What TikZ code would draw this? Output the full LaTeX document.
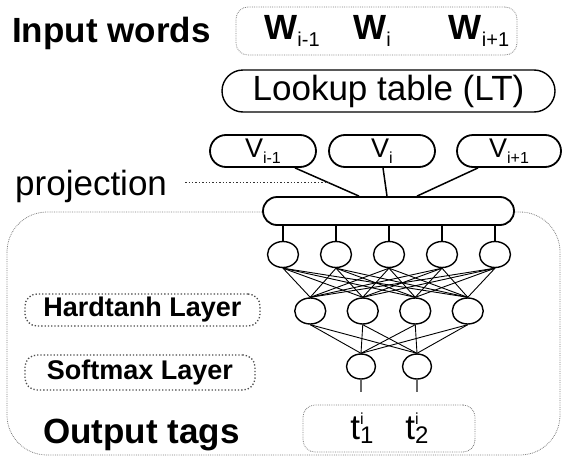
\documentclass[tikz,border=0pt]{standalone}
\usepackage{fontspec}
\setmainfont{Liberation Sans}
\usetikzlibrary{positioning,shapes.misc,shapes.geometric}
\newcommand{\lowsub}[2]{\raisebox{-0.22em}{\fontsize{#1}{#1}\mdseries\selectfont #2}}
\newcommand{\tagsym}[1]{t\rlap{\raisebox{0.45em}{\fontsize{16}{16}\selectfont i}}\raisebox{-0.1em}{\fontsize{24}{24}\selectfont #1}}

\begin{document}
\begin{tikzpicture}[x=1pt, y=-1pt,
  big/.style={font=\fontsize{35}{40}\selectfont, inner sep=0pt},
  bigb/.style={font=\bfseries\fontsize{35}{40}\selectfont, inner sep=0pt},
  pill/.style={draw, rounded rectangle, line width=1.8pt, inner sep=0pt},
  vbox/.style={pill, minimum width=106, minimum height=32, font=\fontsize{27}{30}\selectfont},
  dotbox/.style={draw=gray, densely dotted, rounded corners=12pt, line width=0.8pt},
  layerbox/.style={draw=black!70, dotted, rounded corners=12pt, line width=1.3pt, font=\bfseries\fontsize{27}{30}\selectfont},
  neuron/.style={ellipse, draw, line width=1.4pt, minimum width=31pt, minimum height=26pt, inner sep=0pt},
  wire/.style={line width=1.5pt}]
\useasboundingbox (0,0) rectangle (562,458);
% input words
\node[bigb, anchor=west] (inlbl) at (12,33) {Input words};
\node[dotbox, minimum width=281, minimum height=48] (wbox) at (376.5,31) {};
\node[bigb] (wm) at (292,31) {W\lowsub{20}{i-1}};
\node[bigb] (w) at (372,31) {W\lowsub{20}{i}};
\node[bigb] (wp) at (479,31) {W\lowsub{20}{i+1}};
\node[pill, line width=1.4pt, minimum width=333, minimum height=42, font=\fontsize{35}{40}\selectfont] (lt) at (388.5,91) {Lookup table (LT)};
% projection
\node[vbox] (vm) at (263,151) {V\lowsub{16}{i-1}};
\node[vbox] (v) at (382,151) {V\lowsub{16}{i}};
\node[vbox, minimum width=104] (vp) at (509,151) {V\lowsub{16}{i+1}};
\draw[dotbox, rounded corners=40pt] (7,212) rectangle (560,455);
\node[pill, fill=white, minimum width=251, minimum height=28] (proj) at (388.5,211) {};
\node[big, anchor=west] (projlbl) at (15,186) {projection};
\draw[wire] ([xshift=32pt]vm.south) -- coordinate[pos=0.52] (pj) ([xshift=-29.5pt]proj.north);
\draw[wire] ([xshift=1pt]v.south) -- ([xshift=-1.5pt]proj.north);
\draw[wire] ([xshift=-31pt]vp.south) -- ([xshift=28.5pt]proj.north);
\draw[dotted, line width=1.4pt, black!80] ([xshift=18pt]pj -| projlbl.east) -- (pj);
% network
\foreach \i in {1,...,5} \node[neuron] (a\i) at (230+53*\i,254.5) {};
\foreach \i in {1,...,4} \node[neuron] (b\i) at (257.75+52.5*\i,311) {};
\foreach \i/\x in {1/361, 2/417} \node[neuron, minimum width=29pt, minimum height=25pt] (s\i) at (\x,366.5) {};
\foreach \i in {1,...,5} \draw[wire] (a\i.north) -- (a\i.north |- proj.south);
\foreach \i in {1,...,5} \foreach \j in {1,...,4} \draw[line width=0.9pt] (a\i.south) -- (b\j.north);
\foreach \i in {1,...,4} \foreach \j in {1,2} \draw[line width=0.9pt] (b\i.south) -- (s\j.north);
\foreach \j in {1,2} \draw[wire, black!60] (s\j.south) -- ++(0,12);
% labels
\node[layerbox, minimum width=235, minimum height=32] (hard) at (142.5,310) {Hardtanh Layer};
\node[layerbox, minimum width=230, minimum height=35] (soft) at (140,372.5) {Softmax Layer};
\node[bigb, anchor=west] (outlbl) at (43,435) {Output tags};
\node[dotbox, minimum width=172, minimum height=47] (obox) at (389,428.5) {};
\node[big] (t1) at (362,428) {\tagsym{1}};
\node[big] (t2) at (417,428) {\tagsym{2}};
\end{tikzpicture}
\end{document}
